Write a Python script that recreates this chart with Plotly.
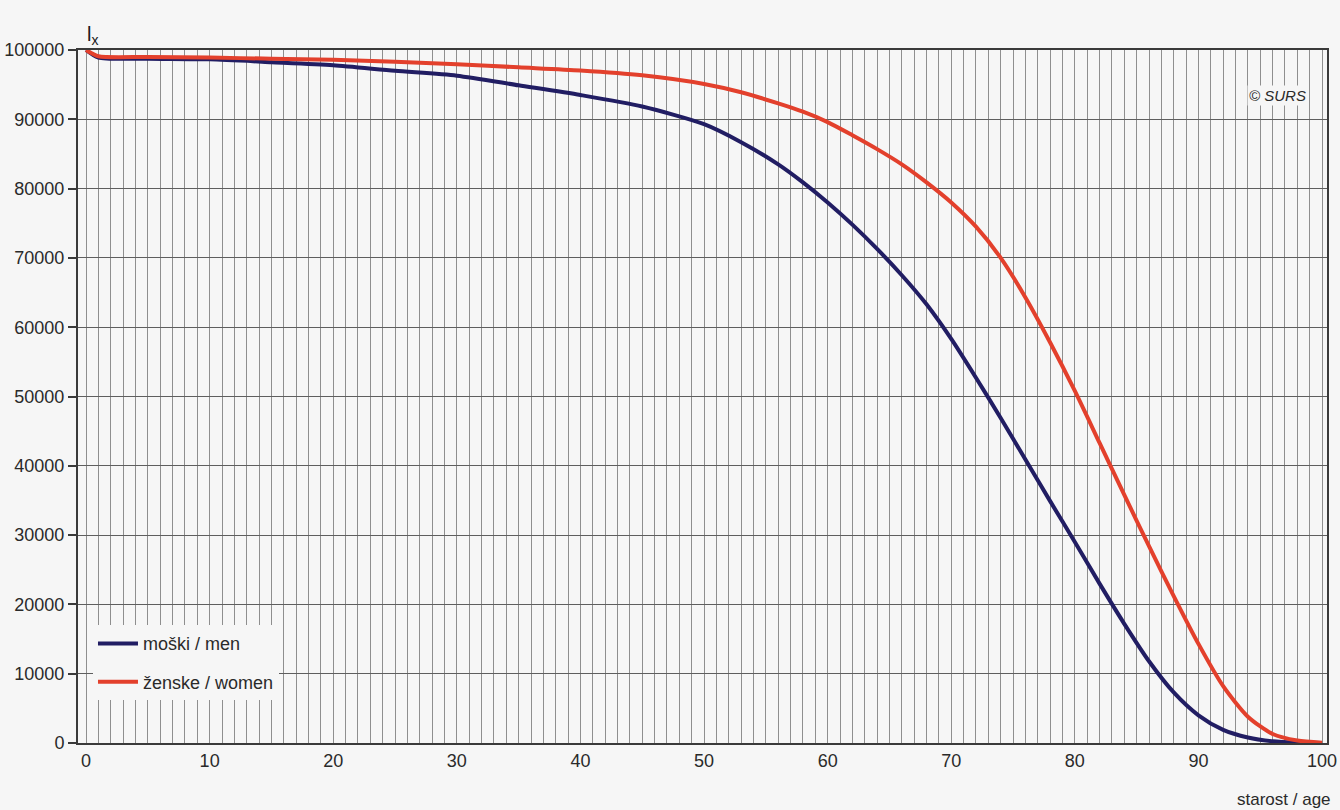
import plotly.graph_objects as go

ages_men = [0, 1, 5, 10, 15, 20, 25, 30, 35, 40, 45, 50, 53, 56, 58, 60, 62, 64, 66, 68, 70, 72, 74, 76, 78, 80, 82, 84, 86, 88, 90, 92, 94, 96, 98, 100]
lx_men = [100000, 98900, 98750, 98650, 98250, 97800, 97000, 96300, 94900, 93500, 91850, 89300, 86700, 83500, 80900, 78000,
          74800, 71300, 67500, 63300, 58300, 52700, 46900, 40900, 34900, 29000, 23000, 17200, 11800, 7300, 4000, 1900, 800, 250, 60, 0]

ages_women = [0, 1, 5, 10, 15, 20, 25, 30, 35, 40, 45, 50, 53, 56, 58, 60, 62, 64, 66, 68, 70, 72, 74, 76, 78, 80, 82, 84, 86, 88, 90, 92, 94, 96, 98, 100]
lx_women = [100000, 99100, 99000, 98900, 98750, 98600, 98300, 97950, 97500, 97050, 96350, 95100, 93900, 92300, 91100, 89600,
            87700, 85700, 83500, 80900, 78000, 74500, 70000, 64300, 57800, 50800, 43300, 35800, 28400, 21200, 14300, 8200, 3800, 1300, 350, 50]

y_ticks = [0, 10000, 20000, 30000, 40000, 50000, 60000, 70000, 80000, 90000, 100000]
x_ticks = [0, 10, 20, 30, 40, 50, 60, 70, 80, 90, 100]

NAVY = "#211d63"
RED = "#e3402c"
FONT = "Liberation Sans, Arial, sans-serif"
BG = "#f6f6f6"

fig = go.Figure()
fig.add_trace(go.Scatter(x=ages_men, y=lx_men, mode="lines", name="moški / men",
                         line=dict(color=NAVY, width=4, shape="spline", smoothing=0.7),
                         legendgroup="m"))
fig.add_trace(go.Scatter(x=ages_women, y=lx_women, mode="lines", name="ženske / women",
                         line=dict(color=RED, width=4, shape="spline", smoothing=0.7),
                         legendgroup="w"))

fig.update_layout(
    width=1340, height=810,
    margin=dict(l=78, r=13, t=50, b=67, autoexpand=False),
    paper_bgcolor=BG,
    plot_bgcolor=BG,
    font=dict(family=FONT, color="#2a2a2a", size=18),
    showlegend=True,
    legend=dict(x=0.012, y=0.17, xanchor="left", yanchor="top",
                bgcolor=BG, borderwidth=0, tracegroupgap=12,
                font=dict(size=18, family=FONT, color="#2a2a2a"),
                itemwidth=40),
    xaxis=dict(range=[-0.65, 100.4], tickvals=x_ticks, ticktext=[str(v) for v in x_ticks],
               showgrid=True, gridcolor="#8e8e8e", gridwidth=1,
               minor=dict(dtick=1, showgrid=True, gridcolor="#8e8e8e", gridwidth=1),
               showline=True, linecolor="#3a3a3a", linewidth=2, mirror=True,
               ticks="", zeroline=False, tickfont=dict(size=18), automargin=False),
    yaxis=dict(range=[0, 100000], tickvals=y_ticks, ticktext=[str(v) for v in y_ticks],
               showgrid=True, gridcolor="#5e5e5e", gridwidth=1,
               showline=True, linecolor="#3a3a3a", linewidth=2, mirror=True,
               ticks="outside", ticklen=8, tickcolor="#3a3a3a", tickwidth=2,
               zeroline=False, tickfont=dict(size=18), automargin=False),
    annotations=[
        dict(text="l<sub>x</sub>", xref="paper", yref="paper", x=0.006, y=1.0, xanchor="left", yanchor="bottom",
             showarrow=False, font=dict(size=20, family=FONT, color="#1a1a1a")),
        dict(text="<i>© SURS</i>", xref="paper", yref="paper", x=0.985, y=0.935, xanchor="right", yanchor="middle",
             showarrow=False, bgcolor=BG, font=dict(size=15, family=FONT, color="#2a2a2a")),
        dict(text="starost / age", xref="paper", yref="paper", x=1.005, y=-0.082, xanchor="right", yanchor="middle",
             showarrow=False, font=dict(size=17, family=FONT, color="#2a2a2a")),
    ],
)

fig.write_html("out.html", config={"displayModeBar": False},
               post_script="document.body.style.margin='0';document.body.style.overflow='hidden';")
